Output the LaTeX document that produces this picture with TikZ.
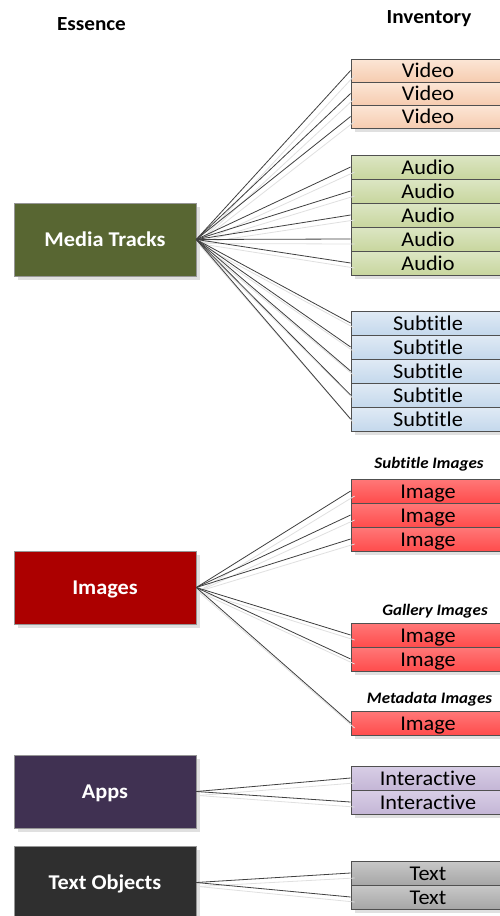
\documentclass[tikz,border=0pt]{standalone}
\usepackage{fontspec}
\setmainfont[FakeStretch=1.06, Ligatures={NoCommon,NoRare,NoContextual}]{Carlito}
\usetikzlibrary{shadows}
\definecolor{mtcol}{RGB}{88,102,50}
\definecolor{imcol}{RGB}{172,0,0}
\definecolor{apcol}{RGB}{64,49,82}
\definecolor{tocol}{RGB}{47,47,47}
\definecolor{vidT}{RGB}{252,230,214}
\definecolor{vidB}{RGB}{246,204,176}
\definecolor{audT}{RGB}{220,230,196}
\definecolor{audB}{RGB}{200,214,158}
\definecolor{subT}{RGB}{224,234,245}
\definecolor{subB}{RGB}{196,216,236}
\definecolor{imgT}{RGB}{255,120,120}
\definecolor{imgB}{RGB}{255,76,76}
\definecolor{intT}{RGB}{216,206,230}
\definecolor{intB}{RGB}{196,182,214}
\definecolor{txtT}{RGB}{200,200,200}
\definecolor{txtB}{RGB}{166,166,166}
\definecolor{lineC}{RGB}{64,64,64}
\definecolor{bordC}{RGB}{80,80,80}
\tikzset{
  essbox/.style={draw=bordC!60, line width=0.5pt, minimum width=182pt, minimum height=73pt,
    inner sep=0pt, text height=13pt, text depth=0pt, text=white,
    font=\fontsize{21}{24}\selectfont\bfseries,
    drop shadow={shadow xshift=4pt, shadow yshift=-4pt, fill=black!12, opacity=1}},
  invrow/.style={draw=bordC, line width=0.8pt, minimum width=154pt, minimum height=#1,
    inner sep=0pt, text height=14.5pt, text depth=0pt,
    font=\fontsize{21}{24}\selectfont,
    drop shadow={shadow xshift=4pt, shadow yshift=-4pt, fill=black!12, opacity=1}},
  invrow/.default=24pt,
  vid/.style={invrow=23pt, top color=vidT, bottom color=vidB},
  aud/.style={invrow, top color=audT, bottom color=audB},
  sub/.style={invrow, top color=subT, bottom color=subB},
  img/.style={invrow, top color=imgT, bottom color=imgB},
  inter/.style={invrow, top color=intT, bottom color=intB},
  txt/.style={invrow, top color=txtT, bottom color=txtB},
  header/.style={font=\fontsize{20}{24}\selectfont\bfseries, anchor=base, inner sep=0pt},
  grouplabel/.style={font=\fontsize{16}{19}\selectfont\bfseries\itshape, anchor=base, inner sep=0pt},
  conn/.style={draw=lineC, line width=0.8pt},
  connsh/.style={draw=black!12, line width=0.8pt},
}
\begin{document}
\begin{tikzpicture}[x=1pt,y=-1pt]
\useasboundingbox[fill=white] (0,0) rectangle (499,916);

% headers
\node[header] (hEss) at (91.5,30) {Essence};
\node[header] (hInv) at (429,23) {Inventory};

% essence boxes
\node[essbox, fill=mtcol] (mt) at (105,239.5) {Media Tracks};
\node[essbox, fill=imcol] (im) at (105,587.5) {Images};
\node[essbox, fill=apcol] (ap) at (105,791.5) {Apps};
\node[essbox, fill=tocol] (to) at (105,882.5) {Text Objects};

% inventory rows
\node[vid] (v1) at (428,70.5) {Video};
\node[vid] (v2) at (428,93.5) {Video};
\node[vid] (v3) at (428,116.5) {Video};

\node[aud] (a1) at (428,167) {Audio};
\node[aud] (a2) at (428,191) {Audio};
\node[aud] (a3) at (428,215) {Audio};
\node[aud] (a4) at (428,239) {Audio};
\node[aud] (a5) at (428,263) {Audio};

\node[sub] (s1) at (428,323) {Subtitle};
\node[sub] (s2) at (428,347) {Subtitle};
\node[sub] (s3) at (428,371) {Subtitle};
\node[sub] (s4) at (428,395) {Subtitle};
\node[sub] (s5) at (428,419) {Subtitle};

\node[grouplabel] (lSI) at (429,468) {Subtitle Images};
\node[img] (i1) at (428,491) {Image};
\node[img] (i2) at (428,515) {Image};
\node[img] (i3) at (428,539) {Image};

\node[grouplabel] (lGI) at (435,615) {Gallery Images};
\node[img] (g1) at (428,635) {Image};
\node[img] (g2) at (428,659) {Image};

\node[grouplabel] (lMI) at (429.5,703) {Metadata Images};
\node[img] (m1) at (428,723) {Image};

\node[inter] (p1) at (428,778) {Interactive};
\node[inter] (p2) at (428,802) {Interactive};

\node[txt] (t1) at (428,873) {Text};
\node[txt] (t2) at (428,897) {Text};

% connectors with faint shadow lines
\foreach \src/\dst in {mt/v1,mt/v2,mt/v3,mt/a1,mt/a2,mt/a3,mt/a4,mt/a5,mt/s1,mt/s2,mt/s3,mt/s4,mt/s5,
  im/i1,im/i2,im/i3,im/g1,im/g2,im/m1,ap/p1,ap/p2,to/t1,to/t2}{
  \draw[connsh] ([shift={(2,4)}]\src.east) -- ([shift={(4,5)}]\dst.west);
}
\foreach \src/\dst in {mt/v1,mt/v2,mt/v3,mt/a1,mt/a2,mt/a3,mt/a4,mt/a5,mt/s1,mt/s2,mt/s3,mt/s4,mt/s5,
  im/i1,im/i2,im/i3,im/g1,im/g2,im/m1,ap/p1,ap/p2,to/t1,to/t2}{
  \draw[conn] (\src.east) -- (\dst.west);
}
\end{tikzpicture}
\end{document}
